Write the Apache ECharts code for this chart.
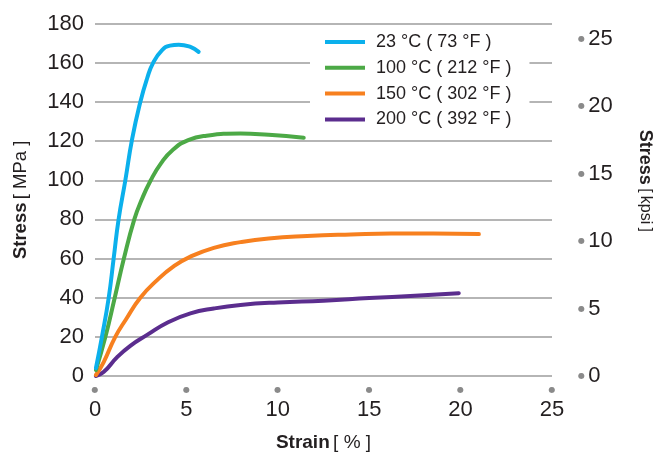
<!DOCTYPE html>
<html>
<head>
<meta charset="utf-8">
<script src="https://cdn.jsdelivr.net/npm/echarts@6/dist/echarts.min.js"></script>
<style>
  html, body { margin: 0; padding: 0; background: #ffffff; }
  #chart { width: 667px; height: 457px; }
</style>
</head>
<body>
<div id="chart"></div>
<script>
// ---- data ----
const seriesNames = ['23 °C ( 73 °F )', '100 °C ( 212 °F )', '150 °C ( 302 °F )', '200 °C ( 392 °F )'];
const seriesColors = ['#0BB0EC', '#4CA946', '#F7801F', '#5B2D8E'];

const strain23 = [0.05, 0.38, 0.75, 1.02, 1.29, 1.66, 2.03, 2.48, 2.85, 3.18, 3.67, 4.1, 4.58, 5.22, 5.67];
const stress23 = [4, 20, 40, 60, 80, 100, 121, 140, 152, 160, 166.5, 168.8, 169.3, 168.1, 165.6];

const strain100 = [0.05, 0.57, 1.08, 1.58, 2.15, 2.55, 3.05, 3.6, 4.25, 5.1, 6.1, 7.96, 9.5, 11.42];
const stress100 = [3, 20, 40, 60, 80, 90, 100, 108.5, 115.5, 120.5, 122.8, 123.9, 123.2, 121.7];

const strain150 = [0.05, 0.47, 1.11, 1.7, 2.48, 3.4, 4.3, 5.22, 6.5, 7.96, 9.5, 11.6, 14, 16.2, 18.5, 21.0];
const stress150 = [0.5, 7, 20, 29, 40, 49, 56, 61, 65.5, 68.4, 70.3, 71.5, 72.3, 72.8, 72.8, 72.5];

const strain200 = [0.05, 0.47, 1.2, 1.93, 2.85, 4, 5.22, 6.5, 7.96, 10, 12.5, 15, 17.5, 19.9];
const stress200 = [0, 2, 9.5, 15.4, 21, 27.5, 32, 34.5, 36.3, 37.6, 38.5, 39.8, 41, 42.3];

const xTicks = [0, 5, 10, 15, 20, 25];
const yLeftTicks = [0, 20, 40, 60, 80, 100, 120, 140, 160, 180];
const yRightTicks = [0, 5, 10, 15, 20, 25];
const MPA_PER_KPSI = 6.894757;

// ---- build ----
const strains = [strain23, strain100, strain150, strain200];
const stresses = [stress23, stress100, stress150, stress200];
const pairs = (xs, ys) => xs.map((x, i) => [x, ys[i]]);

const FONT = '"Liberation Sans", Arial, sans-serif';
const TXT = '#231f20';

const chart = echarts.init(document.getElementById('chart'), null, { renderer: 'canvas' });

const series = seriesNames.map((name, i) => ({
  name: name,
  type: 'line',
  yAxisIndex: 0,
  data: pairs(strains[i], stresses[i]),
  smooth: 0.5,
  showSymbol: false,
  symbol: 'none',
  lineStyle: { color: seriesColors[i], width: 4, cap: 'round', join: 'round' },
  itemStyle: { color: seriesColors[i] },
  z: 10 - i
}));

const option = {
  animation: false,
  backgroundColor: '#ffffff',
  textStyle: { fontFamily: FONT },
  grid: { left: 95, right: 115, top: 23.7, bottom: 76.5, containLabel: false },
  legend: {
    data: seriesNames,
    left: 310,
    top: 29,
    orient: 'vertical',
    backgroundColor: '#ffffff',
    padding: [4, 18, 3, 15],
    itemGap: 7.8,
    itemWidth: 40,
    itemHeight: 4,
    icon: 'rect',
    textStyle: { fontSize: 18, color: TXT, fontFamily: FONT, lineHeight: 18, padding: [0, 0, 0, 6] },
    z: 20
  },
  xAxis: {
    type: 'value',
    min: xTicks[0],
    max: xTicks[xTicks.length - 1],
    interval: 5,
    name: '{b|Strain} {n|[ % ]}',
    nameLocation: 'middle',
    nameGap: 57,
    nameTextStyle: {
      rich: {
        b: { fontSize: 19, fontWeight: 'bold', color: TXT, fontFamily: FONT },
        n: { fontSize: 19, color: TXT, fontFamily: FONT }
      }
    },
    axisLine: { show: false },
    axisTick: { show: false },
    splitLine: { show: false },
    axisLabel: {
      margin: 7,
      formatter: v => '{d|●}\n{v|' + v + '}',
      rich: {
        d: { fontSize: 8, color: '#8a8a8a', lineHeight: 14, fontFamily: '"DejaVu Sans"' },
        v: { fontSize: 22, color: TXT, lineHeight: 26, fontFamily: FONT }
      }
    }
  },
  yAxis: [
    {
      type: 'value',
      position: 'left',
      min: yLeftTicks[0],
      max: yLeftTicks[yLeftTicks.length - 1],
      interval: 20,
      name: '{b|Stress} {n|[ MPa ]}',
      nameLocation: 'middle',
      nameRotate: 90,
      nameGap: 65,
      nameTextStyle: {
        rich: {
          b: { fontSize: 18.5, fontWeight: 'bold', color: TXT, fontFamily: FONT },
          n: { fontSize: 18.5, color: TXT, fontFamily: FONT }
        }
      },
      axisLine: { show: false },
      axisTick: { show: false },
      axisLabel: { fontSize: 22, color: TXT, margin: 11, fontFamily: FONT },
      splitLine: { show: true, lineStyle: { color: '#9d9d9d', width: 1.5 } }
    },
    {
      type: 'value',
      position: 'right',
      min: 0,
      max: yLeftTicks[yLeftTicks.length - 1] / MPA_PER_KPSI,
      interval: 5,
      name: '{b|Stress} {n|[\u2009kpsi\u2009]}',
      nameLocation: 'middle',
      nameRotate: -90,
      nameGap: 84,
      nameTextStyle: {
        padding: [0, 38, 0, 0],
        rich: {
          b: { fontSize: 18, fontWeight: 'bold', color: TXT, fontFamily: FONT },
          n: { fontSize: 16, color: TXT, fontFamily: FONT }
        }
      },
      axisLine: { show: false },
      axisTick: { show: false },
      splitLine: { show: false },
      axisLabel: {
        margin: 26,
        showMaxLabel: false,
        formatter: v => yRightTicks.indexOf(Math.round(v * 1000) / 1000) >= 0 ? '{d|●} {v|' + v + '}' : '',
        rich: {
          d: { fontSize: 8, color: '#8a8a8a', fontFamily: '"DejaVu Sans"' },
          v: { fontSize: 22, color: TXT, fontFamily: FONT }
        }
      }
    }
  ],
  series: series
};

chart.setOption(option);
</script>
</body>
</html>
